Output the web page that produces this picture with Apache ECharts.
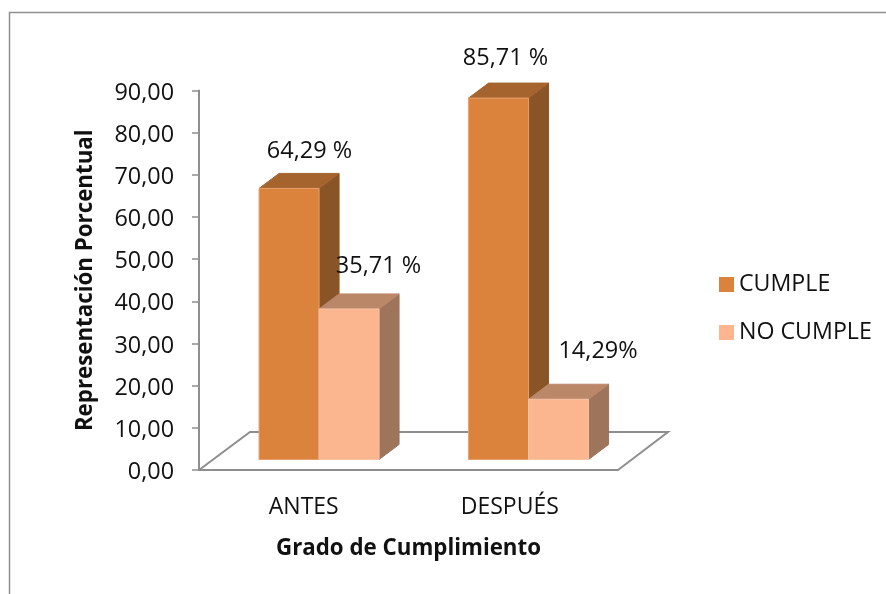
<!DOCTYPE html>
<html><head><meta charset="utf-8">
<style>html,body{margin:0;padding:0;background:#fff}#c{width:886px;height:594px}</style>
<script src="https://cdn.jsdelivr.net/npm/echarts@6/dist/echarts.min.js"></script>
</head><body><div id="c"></div>
<script>
const categories = ['ANTES', 'DESPUÉS'];
const cumple = [64.29, 85.71];
const noCumple = [35.71, 14.29];
const cumpleLabels = ['64,29 %', '85,71 %'];
const noCumpleLabels = ['35,71 %', '14,29%'];
const yTicks = [0, 10, 20, 30, 40, 50, 60, 70, 80, 90];

const FONT = '"Open Sans"';
const INK = '#111';
const AXIS = '#8e8e8e';
const BAR_W = 60, DX = 20, DY = 15, LIFT = 10.5, SHIFT = 15.3;

const chart = echarts.init(document.getElementById('c'), null, {renderer: 'canvas'});

function barRenderer(colors, side, labels, labelOffsets) {
  return function (params, api) {
    const i = api.value(0), v = api.value(1);
    const top = api.coord([i, v]), base = api.coord([i, 0]);
    const x0 = top[0] + SHIFT + (side < 0 ? -BAR_W : 0), x1 = x0 + BAR_W;
    const yT = top[1] - LIFT, yB = base[1] - LIFT;
    const poly = (pts, fill, stroke) => ({type: 'polygon', shape: {points: pts},
      style: {fill: fill, stroke: stroke, lineWidth: 1}});
    return {type: 'group', children: [
      poly([[x1, yT], [x1 + DX, yT - DY], [x1 + DX, yB - DY], [x1, yB]], colors.side, colors.side),
      poly([[x0, yT], [x0 + DX, yT - DY], [x1 + DX, yT - DY], [x1, yT]], colors.top, colors.top),
      poly([[x0, yT], [x1, yT], [x1, yB], [x0, yB]], colors.front, colors.edge),
      {type: 'text', z2: 100,
       style: {text: labels[i], x: x0 + labelOffsets[i][0], y: yT + labelOffsets[i][1],
         align: 'center', verticalAlign: 'middle', font: '23.5px ' + FONT, fill: INK}}
    ]};
  };
}

const floorRenderer = function (params) {
  const c = params.coordSys, l = c.x, r = c.x + c.width, b = c.y + c.height;
  return {type: 'polyline', silent: true,
    shape: {points: [[l, b], [l + 51, b - 38], [r + 50, b - 38], [r, b]]},
    style: {fill: 'none', stroke: AXIS, lineWidth: 2}};
};

chart.setOption({
  animation: false,
  backgroundColor: '#fff',
  graphic: [{type: 'rect', silent: true, z: -1,
    shape: {x: 9.5, y: 12.5, width: 885, height: 590},
    style: {fill: 'none', stroke: '#8e8e8e', lineWidth: 1.5}}],
  legend: {
    orient: 'vertical', left: 719, top: 273, padding: 0, itemWidth: 15, itemHeight: 15, itemGap: 25,
    icon: 'rect', data: ['CUMPLE', 'NO CUMPLE'],
    textStyle: {fontFamily: FONT, fontSize: 23.2, color: INK}
  },
  grid: {left: 199, top: 90.5, width: 419, height: 379.5, containLabel: false},
  xAxis: {
    type: 'category', data: categories,
    name: 'Grado de Cumplimiento', nameLocation: 'middle', nameGap: 68,
    nameTextStyle: {fontFamily: FONT, fontSize: 22.3, fontWeight: 'bold', color: INK},
    axisTick: {show: false},
    axisLine: {lineStyle: {color: AXIS, width: 2}},
    axisLabel: {fontFamily: FONT, fontSize: 23, color: INK, margin: 26,
      formatter: (v) => v === 'DESPUÉS' ? '{s|' + v + '}' : v,
      rich: {s: {fontFamily: FONT, fontSize: 23, color: INK, padding: [0, 7, 0, 0]}}}
  },
  yAxis: {
    type: 'value', min: 0, max: 90, interval: 10,
    name: 'Representación Porcentual', nameLocation: 'middle', nameGap: 102,
    nameTextStyle: {fontFamily: FONT, fontSize: 22.3, fontWeight: 'bold', color: INK},
    splitLine: {show: false},
    axisLine: {show: true, lineStyle: {color: AXIS, width: 2}},
    axisTick: {show: true, length: 7, lineStyle: {color: AXIS, width: 1.5}},
    axisLabel: {fontFamily: FONT, fontSize: 23.4, color: INK, margin: 25,
      formatter: (v) => yTicks.includes(v) ? '{n|' + v.toFixed(2).replace('.', ',') + '}' : '',
      rich: {n: {fontFamily: FONT, fontSize: 23.4, color: INK, padding: [5, 0, 0, 0]}}}
  },
  series: [
    {type: 'custom', name: 'floor', silent: true, z: 1, data: [[0, 0]], renderItem: floorRenderer,
     encode: {x: 0, y: 1}},
    {type: 'custom', name: 'CUMPLE', z: 2, itemStyle: {color: '#DB823D'},
     encode: {x: 0, y: 1},
     data: cumple.map((v, i) => [i, v]),
     renderItem: barRenderer({front: '#DB823D', side: '#8A5526', top: '#A5642E', edge: '#E6A06C'},
       -1, cumpleLabels, [[50.5, -37], [37, -40]])},
    {type: 'custom', name: 'NO CUMPLE', z: 3, itemStyle: {color: '#FDB48F'},
     encode: {x: 0, y: 1},
     data: noCumple.map((v, i) => [i, v]),
     renderItem: barRenderer({front: '#FBB58F', side: '#9E745B', top: '#BB8769', edge: '#F8C4A8'},
       1, noCumpleLabels, [[59.5, -43], [69.5, -48]])}
  ]
});
</script></body></html>
